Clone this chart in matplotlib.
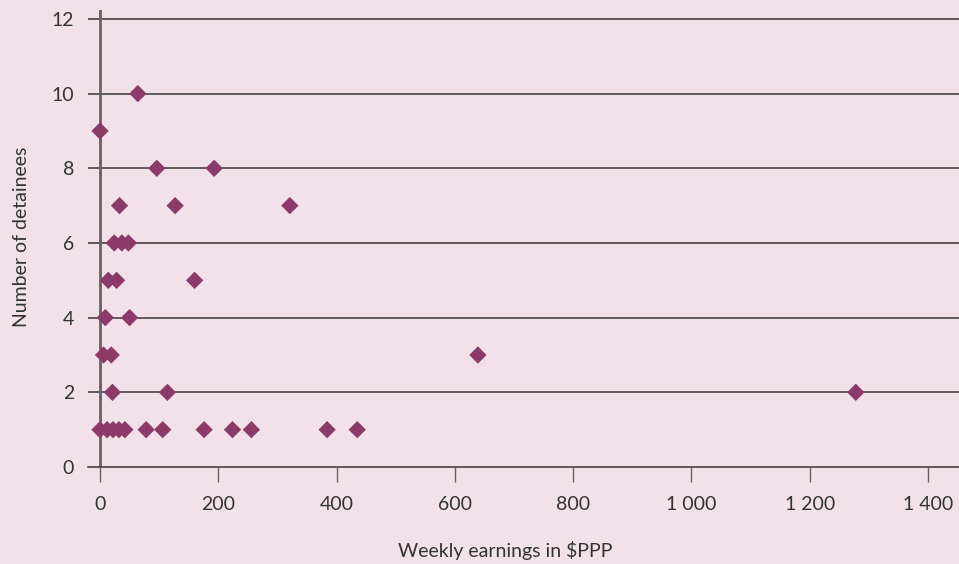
import matplotlib
matplotlib.use("Agg")
import matplotlib.pyplot as plt

earnings = [0, 12, 22, 32, 42, 78, 106, 176, 224, 256, 384, 435,
            21, 114, 1278,
            6, 19, 639,
            9, 50,
            14, 28, 160,
            24, 37, 48,
            33, 127, 321,
            96, 193,
            0,
            64]
detainees = [1, 1, 1, 1, 1, 1, 1, 1, 1, 1, 1, 1,
             2, 2, 2,
             3, 3, 3,
             4, 4,
             5, 5, 5,
             6, 6, 6,
             7, 7, 7,
             8, 8,
             9,
             10]
x_ticks = [0, 200, 400, 600, 800, 1000, 1200, 1400]
x_ticklabels = ["0", "200", "400", "600", "800", "1 000", "1 200", "1 400"]
y_ticks = [0, 2, 4, 6, 8, 10, 12]

bg = "#f2e1e8"
txt = "#333333"
plt.rcParams['font.family'] = ['Lato', 'DejaVu Sans']

fig = plt.figure(figsize=(9.59, 5.64), dpi=100, facecolor=bg)
ax = fig.add_axes([88/959, 1-467/564, 1-88/959, (467-10)/564])
ax.set_facecolor(bg)

ax.set_xlim(-20.3, 1452.5)
ax.set_ylim(0, 12.24)

for yv in y_ticks[1:]:
    ax.axhline(yv, color="#3a3535", lw=1.1, zorder=1)
ax.axvline(0, color="#6a6062", lw=2, zorder=1)

ax.scatter(earnings, detainees, marker="D", s=78, color="#8c3b69",
           edgecolors="none", zorder=3, clip_on=False)

for s in ["top", "right", "left"]:
    ax.spines[s].set_visible(False)
ax.spines["bottom"].set_color("#3a3535")
ax.spines["bottom"].set_linewidth(1.1)

ax.set_xticks(x_ticks)
ax.set_xticklabels(x_ticklabels)
ax.set_yticks(y_ticks)
ax.tick_params(axis="x", length=11, width=1, color="#6a6062", pad=10,
               labelsize=14, labelcolor=txt)
ax.tick_params(axis="y", length=0, pad=10, labelsize=14, labelcolor=txt)

fig.text(505/959, 1-550/564, "Weekly earnings in $PPP", fontsize=14,
         color=txt, ha="center", va="center")
fig.text(22/959, 1-237/564, "Number of detainees", fontsize=14,
         color=txt, ha="center", va="center", rotation=90)

fig.savefig("out.png", dpi=100, facecolor=bg)
